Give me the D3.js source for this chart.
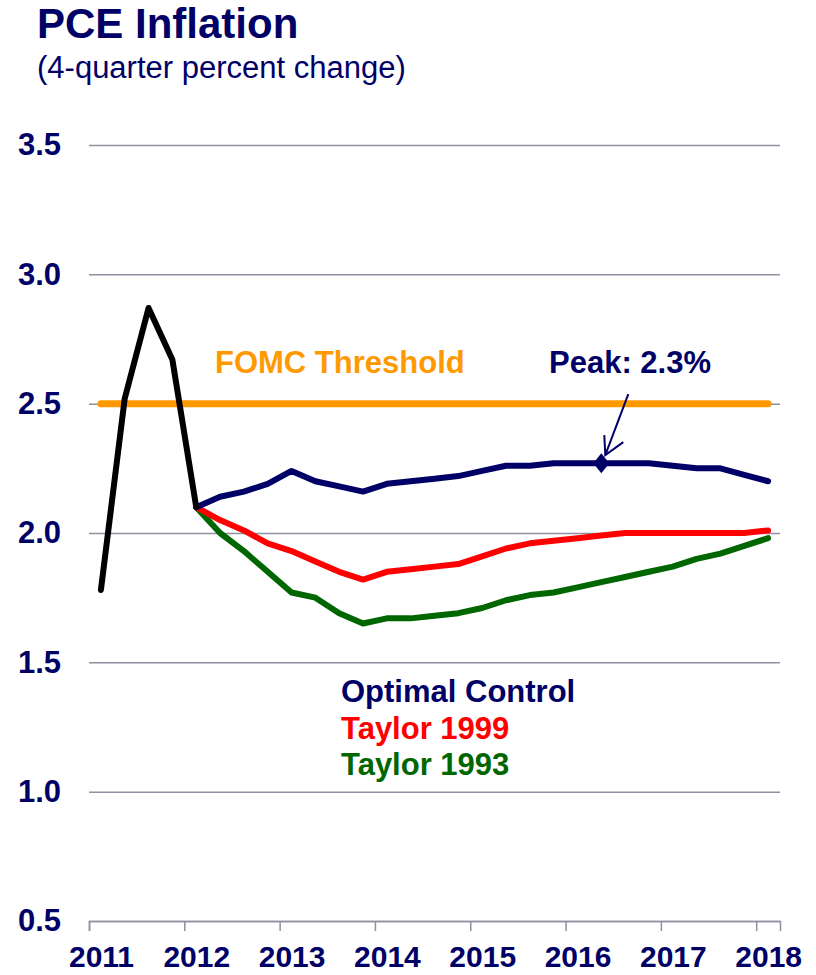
<!DOCTYPE html>
<html>
<head>
<meta charset="utf-8">
<script src="https://cdn.jsdelivr.net/npm/d3@7"></script>
<style>
  body { margin: 0; background: #fff; }
  text { font-family: Arial, "Liberation Sans", sans-serif; }
</style>
</head>
<body>
<script>
var width = 816,
    height = 975;

var quarters = ["2011Q1","2011Q2","2011Q3","2011Q4","2012Q1","2012Q2","2012Q3","2012Q4",
                "2013Q1","2013Q2","2013Q3","2013Q4","2014Q1","2014Q2","2014Q3","2014Q4",
                "2015Q1","2015Q2","2015Q3","2015Q4","2016Q1","2016Q2","2016Q3","2016Q4",
                "2017Q1","2017Q2","2017Q3","2017Q4","2018Q1"];
var years = [2011, 2012, 2013, 2014, 2015, 2016, 2017, 2018];
var yTicks = [0.5, 1.0, 1.5, 2.0, 2.5, 3.0, 3.5];

// history, 2011Q1 - 2012Q1
var actual = [1.78, 2.52, 2.87, 2.67, 2.10];
// projections, 2012Q1 - 2018Q1
var optimal = [2.10, 2.14, 2.16, 2.19, 2.24, 2.20, 2.18, 2.16, 2.19, 2.20, 2.21, 2.22, 2.24,
               2.26, 2.26, 2.27, 2.27, 2.27, 2.27, 2.27, 2.26, 2.25, 2.25, 2.225, 2.20];
var taylor1999 = [2.10, 2.05, 2.01, 1.96, 1.93, 1.89, 1.85, 1.82, 1.85, 1.86, 1.87, 1.88, 1.91,
                  1.94, 1.96, 1.97, 1.98, 1.99, 2.00, 2.00, 2.00, 2.00, 2.00, 2.00, 2.01];
var taylor1993 = [2.10, 2.00, 1.93, 1.85, 1.77, 1.75, 1.69, 1.65, 1.67, 1.67, 1.68, 1.69, 1.71,
                  1.74, 1.76, 1.77, 1.79, 1.81, 1.83, 1.85, 1.87, 1.90, 1.92, 1.95, 1.98];
var threshold = 2.5;
var peakQuarter = "2016Q2", peakValue = 2.27;

var navy = "#000066",
    grid = "#8f8fa3";

var svg = d3.select("body").append("svg")
    .attr("width", width)
    .attr("height", height);

var x = d3.scaleBand()
    .domain(quarters)
    .range([89, 780]);

var xYear = d3.scaleLinear()
    .domain([2011, 2018.25])
    .range([89, 780]);

var y = d3.scaleLinear()
    .domain([0.5, 3.5])
    .range([921, 145]);

var cx = (q) => x(q) + x.bandwidth() / 2;

// title
svg.append("text")
    .attr("x", 37).attr("y", 38)
    .attr("fill", navy)
    .style("font-size", "42px").style("font-weight", "bold")
    .text("PCE Inflation");

svg.append("text")
    .attr("x", 37).attr("y", 78)
    .attr("fill", navy)
    .style("font-size", "31px")
    .text("(4-quarter percent change)");

// y grid + labels
var yAxis = svg.append("g")
    .attr("transform", "translate(89,0)")
    .call(d3.axisLeft(y)
      .tickValues(yTicks)
      .tickFormat(d3.format(".1f"))
      .tickSize(-691)
      .tickPadding(28));

yAxis.select(".domain").remove();
yAxis.selectAll("line").attr("stroke", grid).attr("stroke-width", 1.5);
yAxis.selectAll("text")
    .attr("fill", navy)
    .style("font-size", "31px").style("font-weight", "bold")
    .style("font-family", "Arial, 'Liberation Sans', sans-serif");

// x axis
var xAxis = svg.append("g")
    .attr("transform", "translate(0,921)")
    .call(d3.axisBottom(xYear)
      .tickValues(years)
      .tickFormat(d3.format("d"))
      .tickSizeOuter(0)
      .tickSize(10)
      .tickPadding(15));

xAxis.select(".domain").attr("stroke", grid).attr("stroke-width", 1.5);
xAxis.selectAll("line").attr("stroke", grid).attr("stroke-width", 1.5);
xAxis.selectAll("text")
    .attr("dx", 12)
    .attr("fill", navy)
    .style("font-size", "30px").style("font-weight", "bold")
    .style("font-family", "Arial, 'Liberation Sans', sans-serif");

// threshold line
svg.append("line")
    .attr("x1", cx(quarters[0])).attr("x2", cx(quarters[quarters.length - 1]))
    .attr("y1", y(threshold)).attr("y2", y(threshold))
    .attr("stroke", "#ff9900")
    .attr("stroke-width", 7)
    .attr("stroke-linecap", "round");

var line = d3.line()
    .x((d) => cx(d.q))
    .y((d) => y(d.v));

function series(values, start) {
  var i0 = quarters.indexOf(start);
  return values.map((v, i) => ({q: quarters[i0 + i], v: v}));
}

var lines = [
  {values: taylor1993, start: "2012Q1", color: "#006600"},
  {values: taylor1999, start: "2012Q1", color: "#ff0000"},
  {values: optimal, start: "2012Q1", color: navy},
  {values: actual, start: "2011Q1", color: "#000000"}
];

lines.forEach((s) => {
  svg.append("path")
      .datum(series(s.values, s.start))
      .attr("d", line)
      .attr("fill", "none")
      .attr("stroke", s.color)
      .attr("stroke-width", 6)
      .attr("stroke-linejoin", "round")
      .attr("stroke-linecap", "round");
});

// peak marker
var px = cx(peakQuarter), py = y(peakValue);
svg.append("path")
    .attr("d", `M${px},${py - 10}L${px + 8},${py}L${px},${py + 10}L${px - 8},${py}Z`)
    .attr("fill", navy);

// annotation arrow
var ax = px + 27, ay = py - 69, tx = px + 4, ty = py - 8;
svg.append("line")
    .attr("x1", ax).attr("y1", ay).attr("x2", tx).attr("y2", ty)
    .attr("stroke", navy).attr("stroke-width", 2);
svg.append("path")
    .attr("d", `M${tx - 1},${ty - 20}L${tx},${ty}L${tx + 18},${ty - 13}`)
    .attr("fill", "none")
    .attr("stroke", navy).attr("stroke-width", 2);

var labelStyle = (sel) => sel.style("font-size", "31px").style("font-weight", "bold");

svg.append("text")
    .attr("x", 549).attr("y", 373)
    .attr("fill", navy)
    .call(labelStyle)
    .text("Peak: 2.3%");

svg.append("text")
    .attr("x", 215).attr("y", 373)
    .attr("fill", "#ff9900")
    .call(labelStyle)
    .text("FOMC Threshold");

// legend
var legend = [
  {name: "Optimal Control", color: navy},
  {name: "Taylor 1999", color: "#ff0000"},
  {name: "Taylor 1993", color: "#006600"}
];

svg.selectAll(".legend")
    .data(legend)
  .enter().append("text")
    .attr("class", "legend")
    .attr("x", 341)
    .attr("y", (d, i) => 702 + i * 36.5)
    .attr("fill", (d) => d.color)
    .call(labelStyle)
    .text((d) => d.name);
</script>
</body>
</html>
